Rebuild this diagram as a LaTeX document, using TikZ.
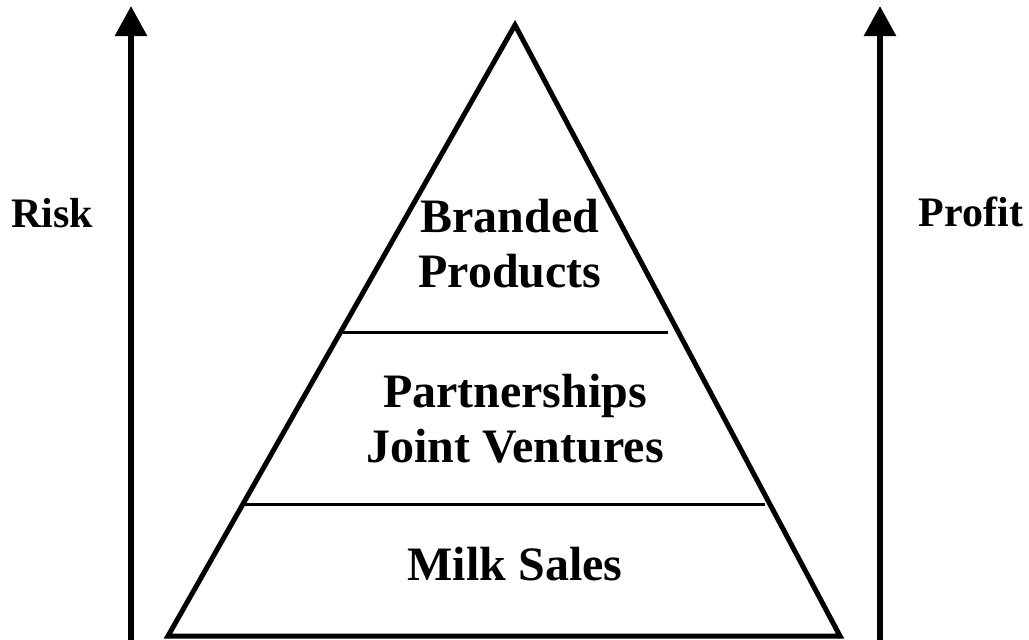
\documentclass[tikz,border=0pt]{standalone}
\usepackage{fontspec}
\setmainfont{Liberation Serif}
\usetikzlibrary{arrows.meta}

\begin{document}
\begin{tikzpicture}[
  x=1pt, y=-1pt,
  level/.style={font=\bfseries\fontsize{48}{55}\selectfont, align=center, anchor=base, inner sep=0pt},
  side/.style={font=\bfseries\fontsize{42}{48}\selectfont, anchor=base, inner sep=0pt},
  axis/.style={line width=6pt, -{Triangle[width=31pt,length=30pt]}}
]
  \useasboundingbox (0,0) rectangle (1029,640);
  % pyramide
  \coordinate (apex) at (515,25);
  \coordinate (bl) at (168,636);
  \coordinate (br) at (840,636);
  \draw[line width=5pt, line join=miter] (apex) -- (br) -- (bl) -- cycle;
  \draw[line width=3pt] (343,332) -- (668,332);
  \draw[line width=3pt] (245,504) -- (765,504);
  % textes
  \node[level] (branded) at (510,287) {Branded\\Products};
  \node[level] (partners) at (515,462) {Partnerships\\Joint Ventures};
  \node[level] (milk) at (515,580) {Milk Sales};
  \node[side] (risk) at (52,227) {Risk};
  \node[side] (profit) at (971,226) {Profit};
  % axes
  \coordinate (riskbot) at (131,640);
  \coordinate (risktop) at (131,6);
  \coordinate (profitbot) at (880,640);
  \coordinate (profittop) at (880,6);
  \draw[axis] (riskbot) -- (risktop);
  \draw[axis] (profitbot) -- (profittop);
\end{tikzpicture}
\end{document}
